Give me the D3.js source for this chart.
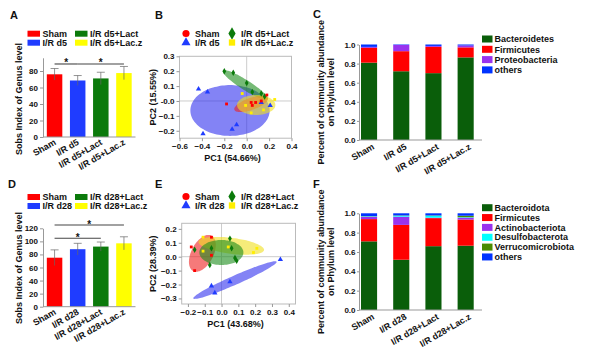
<!DOCTYPE html>
<html>
<head>
<meta charset="utf-8">
<title>Gut microbiota panels</title>
<script src="https://cdn.jsdelivr.net/npm/d3@7"></script>
<style>
  body { margin: 0; background: #fff; }
  svg text { font-family: "Liberation Sans", Arial, sans-serif; font-weight: bold; fill: #111; }
  .axis path, .axis line { stroke: #999; }
  .axis text { font-size: 8px; font-family: "Liberation Sans", Arial, sans-serif; font-weight: bold; fill: #111; }
</style>
</head>
<body>
<script>
// ---------- data ----------
var groupsD5 = ["Sham", "I/R d5", "I/R d5+Lact", "I/R d5+Lac.z"];
var groupsD28 = ["Sham", "I/R d28", "I/R d28+Lact", "I/R d28+Lac.z"];
var groupColors = ["#ff0000", "#1f3cff", "#0b7a0b", "#ffff00"];

// A / D : Sobs index
var sobsD5 = [76, 68.5, 71, 77.5];
var sobsErrD5 = [7, 6, 7.5, 8];
var sobsD28 = [75, 88, 92, 97];
var sobsErrD28 = [12, 9, 7, 10];
var sigD5 = [[0, 1, 88.5], [1, 3, 88.5]];
var sigD28 = [[0, 2, 104.7], [0, 3, 125]];

// B : PCA day 5
var shamPtsD5 = [[-0.18, -0.02], [0.04, -0.01], [0.05, -0.03], [0.08, -0.01], [0.13, 0.0], [0.18, 0.04]];
var irPtsD5 = [[-0.43, 0.08], [-0.35, 0.06], [-0.39, -0.22], [-0.13, -0.19], [-0.09, -0.16], [0.13, -0.01], [0.21, -0.03]];
var lactPtsD5 = [[-0.20, 0.20], [-0.12, 0.19], [0.0, 0.12], [0.05, 0.06], [0.13, 0.05], [0.16, 0.03]];
var laczPtsD5 = [[-0.04, 0.05], [-0.01, -0.03], [0.04, -0.08], [0.15, -0.06], [0.25, 0.01]];
// ellipse: centre x, centre y, axis1 (dx, dy), axis2 (dx, dy)
var shamEllD5 = [0.039, -0.02, 0.149, 0.039, 0.018, -0.038];
var irEllD5 = [-0.149, -0.064, 0.354, 0, 0, 0.171];
var lactEllD5 = [-0.011, 0.107, 0.201, -0.096, -0.024, -0.028];
var laczEllD5 = [0.085, -0.027, 0.171, 0, 0, 0.067];

// E : PCA day 28
var shamPtsD28 = [[-0.18, 0.07], [-0.06, 0.14], [-0.06, 0.01], [-0.16, -0.10]];
var irPtsD28 = [[-0.06, -0.21], [-0.04, -0.26], [0.05, -0.18], [0.35, -0.02]];
var lactPtsD28 = [[-0.16, 0.05], [-0.06, 0.06], [-0.07, -0.06], [0.05, 0.13], [0.06, 0.06], [0.08, -0.01], [0.09, -0.03]];
var laczPtsD28 = [[-0.11, 0.14], [-0.11, 0.04], [0.04, 0.07], [0.19, 0.03], [0.21, 0.06]];
var shamEllD28 = [-0.114, 0.024, 0.055, 0.127, 0.058, -0.037];
var irEllD28 = [0.080, -0.168, 0.248, 0.132, 0.011, -0.030];
var lactEllD28 = [-0.001, 0.030, 0.131, 0, 0, 0.09];
var laczEllD28 = [0.058, 0.078, 0.195, -0.030, -0.006, -0.057];

// C : phylum level day 5
var phylaD5 = ["Bacteroidetes", "Firmicutes", "Proteobacteria", "others"];
var phylaColorsD5 = ["#0a5e0a", "#ff0000", "#9933ee", "#0033ff"];
var bacteroidetesD5 = [0.81, 0.72, 0.70, 0.865];
var firmicutesD5 = [0.155, 0.21, 0.275, 0.105];
var proteobacteriaD5 = [0.01, 0.065, 0.01, 0.02];
var othersD5 = [0.025, 0.005, 0.015, 0.01];

// F : phylum level day 28
var phylaD28 = ["Bacteroidota", "Firmicutes", "Actinobacteriota", "Desulfobacterota", "Verrucomicrobiota", "others"];
var phylaColorsD28 = ["#0a5e0a", "#ff0000", "#9933ee", "#00ffff", "#4a8c00", "#0033ff"];
var bacteroidotaD28 = [0.71, 0.52, 0.66, 0.665];
var firmicutesD28 = [0.23, 0.36, 0.29, 0.27];
var actinoD28 = [0.025, 0.085, 0.005, 0.02];
var desulfoD28 = [0.005, 0.01, 0.02, 0.005];
var verrucoD28 = [0.002, 0.003, 0.003, 0.015];
var othersD28 = [0.028, 0.022, 0.022, 0.025];

var ticksBar5 = [0, 20, 40, 60, 80];
var ticksBar28 = [0, 20, 40, 60, 80, 100, 120];
var ticksPcaX5 = [-0.6, -0.4, -0.2, 0.0, 0.2, 0.4];
var ticksPcaY5 = [-0.2, -0.1, 0.0, 0.1, 0.2, 0.3];
var ticksPcaX28 = [-0.2, -0.1, 0.0, 0.1, 0.2, 0.3, 0.4];
var ticksPcaY28 = [-0.3, -0.2, -0.1, 0.0, 0.1, 0.2];
var ticksPhylum = [0, 0.2, 0.4, 0.6, 0.8, 1.0];

// ---------- drawing ----------
var svg = d3.select("body").append("svg").attr("width", 600).attr("height", 353);

function letter(t, x, y) {
  svg.append("text").attr("x", x).attr("y", y).style("font-size", "11px").text(t);
}

function sobsPanel(o) {
  var g = svg.append("g");
  var x = d3.scaleBand().domain(o.groups).range([43, 135.5]).paddingInner(0.33).paddingOuter(0.165);
  var y = d3.scaleLinear().domain([0, o.ymax]).range([o.y0, o.yTop]);

  // legend
  o.groups.forEach(function(name, i) {
    var lx = i < 2 ? 27.5 : 75, ly = o.legY + (i % 2) * 9;
    g.append("rect").attr("x", lx).attr("y", ly - 3).attr("width", 12.5).attr("height", 6).attr("fill", groupColors[i]);
    g.append("text").attr("x", lx + 15).attr("y", ly + 3.3).style("font-size", "9px").text(name);
  });

  g.selectAll(".bar").data(o.values).enter().append("rect")
    .attr("x", function(d, i) { return x(o.groups[i]); })
    .attr("y", function(d) { return y(d); })
    .attr("width", x.bandwidth())
    .attr("height", function(d) { return y(0) - y(d); })
    .attr("fill", function(d, i) { return groupColors[i]; });

  // error bars
  o.values.forEach(function(v, i) {
    var cx = x(o.groups[i]) + x.bandwidth() / 2, e = o.errs[i];
    g.append("line").attr("x1", cx).attr("x2", cx).attr("y1", y(v - e)).attr("y2", y(v + e))
      .attr("stroke", "#666").attr("stroke-opacity", 0.7);
    g.append("line").attr("x1", cx - 4).attr("x2", cx + 4).attr("y1", y(v + e)).attr("y2", y(v + e))
      .attr("stroke", "#666").attr("stroke-opacity", 0.7);
  });

  // significance
  o.sig.forEach(function(s) {
    var x1 = x(o.groups[s[0]]) + x.bandwidth() / 2, x2 = x(o.groups[s[1]]) + x.bandwidth() / 2;
    g.append("line").attr("x1", x1).attr("x2", x2).attr("y1", y(s[2])).attr("y2", y(s[2]))
      .attr("stroke", "#444").attr("stroke-width", 1.1);
    g.append("text").attr("x", (x1 + x2) / 2).attr("y", y(s[2]) + 2.5).attr("text-anchor", "middle")
      .style("font-size", "10px").text("*");
  });

  g.append("g").attr("class", "axis").attr("transform", "translate(43,0)")
    .call(d3.axisLeft(y).tickValues(o.ticks).tickSize(3).tickSizeOuter(0).tickPadding(2));
  g.append("line").attr("x1", 43).attr("x2", 135.5).attr("y1", o.y0).attr("y2", o.y0).attr("stroke", "#999");

  o.groups.forEach(function(name) {
    var cx = x(name) + x.bandwidth() / 2 + 2;
    g.append("text").attr("text-anchor", "end").style("font-size", "9px")
      .attr("transform", "translate(" + cx + "," + (o.y0 + 7) + ") rotate(-30)").text(name);
  });

  g.append("text").attr("text-anchor", "middle").style("font-size", "9px")
    .attr("transform", "translate(22," + o.titleY + ") rotate(-90)").text("Sobs Index of Genus level");
}

function ellipsePath(e, x, y) {
  var pts = d3.range(0, 64).map(function(k) {
    var t = k / 64 * 2 * Math.PI;
    return [x(e[0] + e[2] * Math.cos(t) + e[4] * Math.sin(t)), y(e[1] + e[3] * Math.cos(t) + e[5] * Math.sin(t))];
  });
  return d3.line().curve(d3.curveCardinalClosed)(pts);
}

var pcaStyles = [
  { fill: "#ee2222", pt: "#ff0000", sym: d3.symbolSquare, size: 8, legSym: d3.symbolCircle, legSize: 40 },
  { fill: "#3030ee", pt: "#1f3cff", sym: d3.symbolTriangle, size: 12, legSym: d3.symbolTriangle, legSize: 36 },
  { fill: "#1a8c1a", pt: "#0b7a0b", sym: d3.symbolDiamond, size: 12, legSym: d3.symbolDiamond, legSize: 45 },
  { fill: "#f0e020", pt: "#ffee00", sym: d3.symbolSquare, size: 8, legSym: d3.symbolSquare, legSize: 40 }
];

function pcaPanel(o) {
  var g = svg.append("g");
  var x = d3.scaleLinear().domain(o.xd).range(o.xr);
  var y = d3.scaleLinear().domain(o.yd).range(o.yr);

  // legend
  o.groups.forEach(function(name, i) {
    var lx = i < 2 ? 186 : 232, ly = o.legY + (i % 2) * 9;
    var st = pcaStyles[i];
    g.append("path").attr("d", d3.symbol().type(st.legSym).size(st.legSize)())
      .attr("transform", "translate(" + lx + "," + ly + ")").attr("fill", st.pt);
    g.append("text").attr("x", lx + 9).attr("y", ly + 3.3).style("font-size", "9px").text(name);
  });

  g.append("line").attr("x1", x(0)).attr("x2", x(0)).attr("y1", o.yr[0]).attr("y2", o.yr[1]).attr("stroke", "#ccc");
  g.append("line").attr("x1", o.xr[0]).attr("x2", o.xr[1]).attr("y1", y(0)).attr("y2", y(0)).attr("stroke", "#ccc");

  o.order.forEach(function(i) {
    g.append("path").attr("d", ellipsePath(o.ells[i], x, y))
      .attr("fill", pcaStyles[i].fill).attr("fill-opacity", 0.6);
  });
  o.order.forEach(function(i) {
    g.selectAll(null).data(o.pts[i]).enter().append("path")
      .attr("d", d3.symbol().type(pcaStyles[i].sym).size(pcaStyles[i].size)())
      .attr("transform", function(d) { return "translate(" + x(d[0]) + "," + y(d[1]) + ")"; })
      .attr("fill", pcaStyles[i].pt);
  });

  g.append("rect").attr("x", o.xr[0]).attr("y", o.yr[1]).attr("width", o.xr[1] - o.xr[0])
    .attr("height", o.yr[0] - o.yr[1]).attr("fill", "none").attr("stroke", "#bbb");

  var fmtY = function(d) { return d === 0 ? o.zeroY : d3.format(".1f")(d); };
  g.append("g").attr("class", "axis").attr("transform", "translate(" + o.xr[0] + ",0)")
    .call(d3.axisLeft(y).tickValues(o.yt).tickFormat(fmtY).tickSize(3).tickSizeOuter(0).tickPadding(2))
    .select(".domain").remove();
  g.append("g").attr("class", "axis").attr("transform", "translate(0," + o.yr[0] + ")")
    .call(d3.axisBottom(x).tickValues(o.xt).tickFormat(d3.format(".1f")).tickSize(3).tickSizeOuter(0).tickPadding(2))
    .select(".domain").remove();

  g.append("text").attr("x", (o.xr[0] + o.xr[1]) / 2 - 3).attr("y", o.yr[0] + 23).attr("text-anchor", "middle")
    .style("font-size", "9px").text(o.xTitle);
  g.append("text").attr("text-anchor", "middle").style("font-size", "9px")
    .attr("transform", "translate(156," + (o.yr[0] + o.yr[1]) / 2 + ") rotate(-90)").text(o.yTitle);
}

function phylumPanel(o) {
  var g = svg.append("g");
  var rows = o.groups.map(function(name, i) {
    var r = { group: name };
    o.phyla.forEach(function(p, k) { r[p] = o.series[k][i]; });
    return r;
  });
  var stacked = d3.stack().keys(o.phyla)(rows);
  var x = d3.scaleBand().domain(o.groups).range([359, 475.7]).paddingInner(0.5).paddingOuter(0.062);
  var y = d3.scaleLinear().domain([0, 1]).range([o.y0, o.y1]);

  g.selectAll(".layer").data(stacked).enter().append("g")
    .attr("fill", function(d, k) { return o.colors[k]; })
    .selectAll("rect").data(function(d) { return d; }).enter().append("rect")
    .attr("x", function(d) { return x(d.data.group); })
    .attr("y", function(d) { return y(d[1]); })
    .attr("width", x.bandwidth())
    .attr("height", function(d) { return y(d[0]) - y(d[1]); });

  g.append("g").attr("class", "axis").attr("transform", "translate(359,0)")
    .call(d3.axisLeft(y).tickValues(ticksPhylum).tickFormat(d3.format(".1f")).tickSize(2).tickSizeOuter(0).tickPadding(1.5));
  g.append("line").attr("x1", 359).attr("x2", 482).attr("y1", o.y0).attr("y2", o.y0).attr("stroke", "#999");

  o.groups.forEach(function(name) {
    var cx = x(name) + x.bandwidth() / 2 + 6;
    g.append("text").attr("text-anchor", "end").style("font-size", "9px")
      .attr("transform", "translate(" + cx + "," + (o.y0 + 8.5) + ") rotate(-30)").text(name);
  });

  var mid = (o.y0 + o.y1) / 2;
  g.append("text").attr("text-anchor", "middle").style("font-size", "9px")
    .attr("transform", "translate(324," + mid + ") rotate(-90)").text("Percent of community abundance");
  g.append("text").attr("text-anchor", "middle").style("font-size", "9px")
    .attr("transform", "translate(334," + mid + ") rotate(-90)").text("on Phylum level");

  o.phyla.forEach(function(p, k) {
    var ly = o.legY + k * o.legStep;
    g.append("rect").attr("x", 482).attr("y", ly - 3.5).attr("width", 10.5).attr("height", 7).attr("fill", o.colors[k]);
    g.append("text").attr("x", 494.5).attr("y", ly + 3.2).style("font-size", "9px").text(p);
  });
}

letter("A", 10, 19);
letter("B", 155, 19);
letter("C", 313, 18);
letter("D", 8, 188);
letter("E", 155, 188);
letter("F", 313, 188);

sobsPanel({ groups: groupsD5, values: sobsD5, errs: sobsErrD5, sig: sigD5, ticks: ticksBar5,
  ymax: 96, y0: 137, yTop: 57.8, legY: 33.7, titleY: 99 });
sobsPanel({ groups: groupsD28, values: sobsD28, errs: sobsErrD28, sig: sigD28, ticks: ticksBar28,
  ymax: 120, y0: 306.7, yTop: 228.3, legY: 197, titleY: 268 });

pcaPanel({ groups: groupsD5, pts: [shamPtsD5, irPtsD5, lactPtsD5, laczPtsD5],
  ells: [shamEllD5, irEllD5, lactEllD5, laczEllD5], order: [1, 2, 0, 3],
  xd: [-0.6, 0.4], xr: [179.5, 291.5], yd: [-0.25, 0.3], yr: [138.2, 56.3],
  xt: ticksPcaX5, yt: ticksPcaY5, zeroY: "-0.0", legY: 33.5,
  xTitle: "PC1 (54.66%)", yTitle: "PC2 (15.55%)" });
pcaPanel({ groups: groupsD28, pts: [shamPtsD28, irPtsD28, lactPtsD28, laczPtsD28],
  ells: [shamEllD28, irEllD28, lactEllD28, laczEllD28], order: [0, 3, 2, 1],
  xd: [-0.237, 0.44], xr: [181.7, 295.5], yd: [-0.34, 0.24], yr: [304, 223.3],
  xt: ticksPcaX28, yt: ticksPcaY28, zeroY: "0.0", legY: 196.5,
  xTitle: "PC1 (43.68%)", yTitle: "PC2 (28.39%)" });

phylumPanel({ groups: groupsD5, phyla: phylaD5, colors: phylaColorsD5,
  series: [bacteroidetesD5, firmicutesD5, proteobacteriaD5, othersD5],
  y0: 140, y1: 44.5, legY: 39, legStep: 10.3 });
phylumPanel({ groups: groupsD28, phyla: phylaD28, colors: phylaColorsD28,
  series: [bacteroidotaD28, firmicutesD28, actinoD28, desulfoD28, verrucoD28, othersD28],
  y0: 310, y1: 213.3, legY: 207.7, legStep: 9.85 });
</script>
</body>
</html>
